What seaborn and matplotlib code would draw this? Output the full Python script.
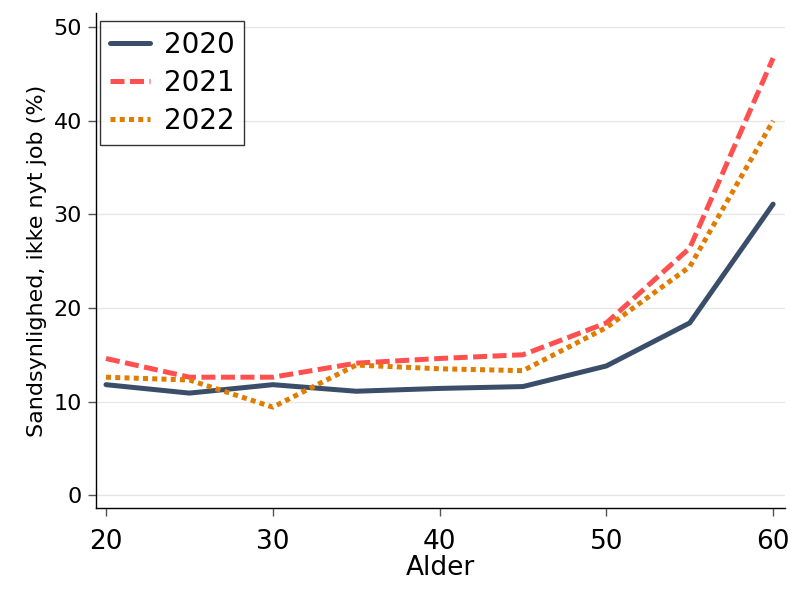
import numpy as np
import pandas as pd
import matplotlib
matplotlib.use("Agg")
import matplotlib.pyplot as plt
import seaborn as sns

ages = [20, 25, 30, 35, 40, 45, 50, 55, 60]
years = ["2020", "2021", "2022"]
vals_2020 = [11.8, 10.9, 11.8, 11.1, 11.4, 11.6, 13.8, 18.4, 31.1]
vals_2021 = [14.6, 12.6, 12.6, 14.1, 14.6, 15.0, 18.4, 26.4, 46.7]
vals_2022 = [12.6, 12.3, 9.4, 13.9, 13.5, 13.3, 17.9, 24.4, 40.0]

df = pd.DataFrame({
    "Alder": ages * 3,
    "value": vals_2020 + vals_2021 + vals_2022,
    "year": [y for y in years for _ in ages],
})

sns.set_style("white")
plt.rcParams["font.family"] = ["DejaVu Sans"]
plt.rcParams["text.color"] = "black"
plt.rcParams["axes.labelcolor"] = "black"

palette = {"2020": "#3a4d69", "2021": "#ff5050", "2022": "#e07c00"}
dashes = {"2020": "", "2021": (2.8, 1.1), "2022": (1.0, 0.85)}

fig = plt.figure(figsize=(8, 6), dpi=100)
ax = fig.add_axes([0.12, 0.153, 0.861, 0.825])
sns.lineplot(data=df, x="Alder", y="value", hue="year", style="year",
             palette=palette, dashes=dashes, linewidth=3.6, ax=ax)

ax.set_xlim(19.4, 60.7)
ax.set_ylim(-1.4, 51.5)
ax.set_xticks([20, 30, 40, 50, 60])
ax.set_yticks([0, 10, 20, 30, 40, 50])
ax.yaxis.grid(True, color="#e6e6e6", linewidth=1)
ax.tick_params(axis="both", direction="out", length=6, width=1, color="#555555",
               labelcolor="black", left=True, bottom=True)
ax.tick_params(axis="x", labelsize=19, pad=9)
ax.tick_params(axis="y", labelsize=16, pad=4)
for s in ["top", "right"]:
    ax.spines[s].set_visible(False)
for s in ["left", "bottom"]:
    ax.spines[s].set_color("black")
    ax.spines[s].set_linewidth(1)

ax.set_xlabel("Alder", fontsize=19, labelpad=0)
ax.set_ylabel("Sandsynlighed, ikke nyt job (%)", fontsize=16, labelpad=5)

leg = ax.legend(loc="upper left", fontsize=20, frameon=True, fancybox=False,
                edgecolor="black", handlelength=1.45, handletextpad=0.5,
                borderpad=0.35, labelspacing=0.36, borderaxespad=0,
                bbox_to_anchor=(0.006, 0.984))
leg.get_frame().set_linewidth(1)
for line in leg.get_lines():
    line.set_linewidth(3.6)

fig.savefig("out.png", dpi=100)
